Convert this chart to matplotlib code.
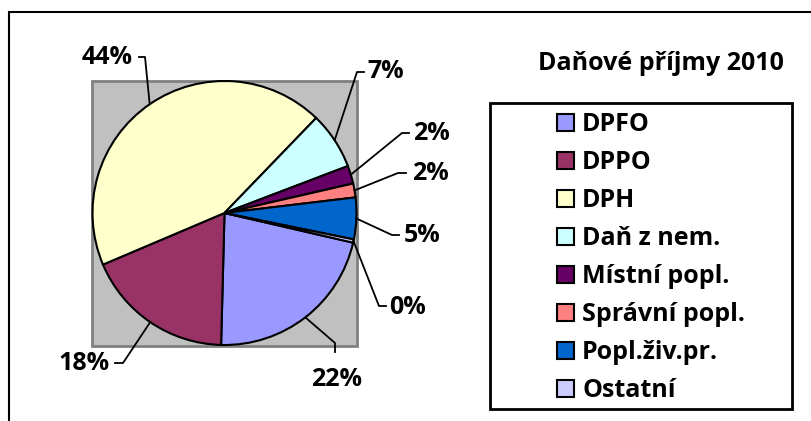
import numpy as np
import matplotlib.pyplot as plt
from matplotlib.patches import Rectangle

plt.rcParams['font.family'] = ['Open Sans', 'DejaVu Sans']
plt.rcParams['font.weight'] = 'bold'

categories = ['DPFO', 'DPPO', 'DPH', 'Daň z nem.', 'Místní popl.',
              'Správní popl.', 'Popl.živ.pr.', 'Ostatní']
shares = [21.8, 18.2, 43.6, 7.0, 2.2, 1.7, 5.1, 0.4]
colors = ['#9999FF', '#993366', '#FFFFCC', '#CCFFFF', '#660066',
          '#FF8080', '#0066CC', '#CCCCFF']
title = 'Daňové příjmy 2010'

W, H = 811, 421
FS = 18
# layout in pixels (y measured from the top)
center = (224.5, 213)
radius = 132
label_xy = [(337, 380), (84, 363), (107, 58), (386, 72),
            (431, 133), (430, 174), (422, 235), (408, 307)]
elbow_xy = [(335, 343), (123, 363), (145, 57), (357, 72),
            (402, 133), (398, 173), (392, 235), (379, 306)]
end_xy = [(335, 352), (115, 363), (139, 57), (364, 72),
          (409, 133), (406, 173), (399, 235), (386, 306)]

fig = plt.figure(figsize=(W / 100, H / 100), dpi=100)
ax = fig.add_axes([0, 0, 1, 1])


def py(y):
    return H - y


# outer chart frame (runs off the right/bottom edge)
ax.add_patch(Rectangle((9, -50), 900, py(12) + 50, fill=False,
                       edgecolor='black', linewidth=1.5))
# plot area
ax.add_patch(Rectangle((92, py(346)), 265, 265, facecolor='#C0C0C0',
                       edgecolor='#808080', linewidth=2, zorder=1))

wedges, _ = ax.pie(shares, colors=colors, startangle=-13, counterclock=False,
                   center=(center[0], py(center[1])), radius=radius,
                   wedgeprops=dict(edgecolor='black', linewidth=1.5),
                   frame=True)
for w in wedges:
    w.set_zorder(2)
ax.set_xlim(0, W)
ax.set_ylim(0, H)
ax.axis('off')

total = sum(shares)
for w, v, txy, exy, nxy in zip(wedges, shares, label_xy, elbow_xy, end_xy):
    mid = np.deg2rad((w.theta1 + w.theta2) / 2)
    sx = center[0] + radius * np.cos(mid)
    sy = py(center[1]) + radius * np.sin(mid)
    ax.plot([sx, exy[0], nxy[0]], [sy, py(exy[1]), py(nxy[1])],
            color='black', linewidth=1.3, zorder=3)
    ax.text(txy[0], py(txy[1]), f'{v / total * 100:.0f}%', ha='center',
            va='center', fontsize=FS, fontweight='bold')

ax.text(661, py(63), title, ha='center', va='center', fontsize=FS,
        fontweight='bold')

# legend box
ax.add_patch(Rectangle((490, py(409)), 302, 306, fill=False,
                       edgecolor='black', linewidth=2))
leg = ax.legend(wedges, categories, loc='upper left',
                bbox_to_anchor=(557 / W, 1 - 112 / H), frameon=False,
                fontsize=FS, borderpad=0, borderaxespad=0,
                handlelength=0.68, handleheight=0.68, handletextpad=0.32,
                labelspacing=0.52)

fig.savefig('out.png', dpi=100)
